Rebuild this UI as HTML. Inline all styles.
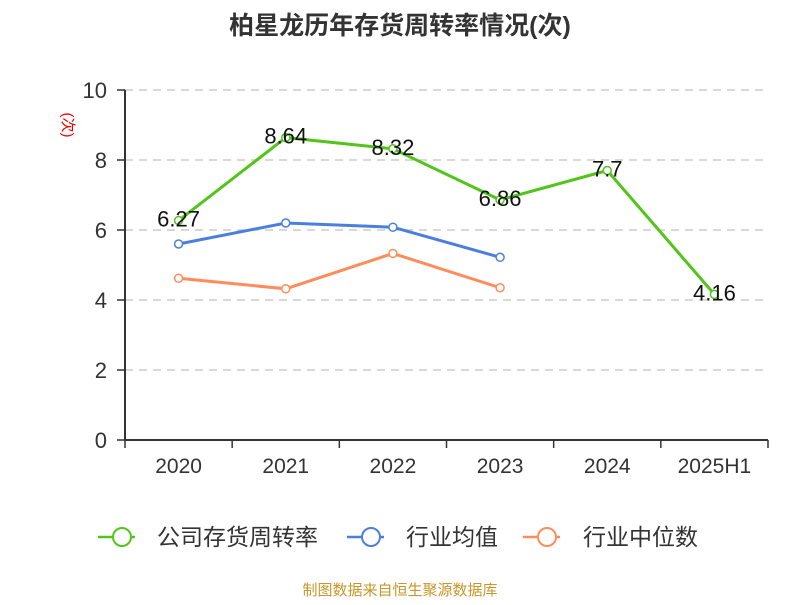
<!DOCTYPE html>
<html><head><meta charset="utf-8"><style>
body{margin:0;background:#fff;}
svg text{font-family:"Liberation Sans","Noto Sans CJK SC",sans-serif;}
</style></head><body>
<svg id="c" width="800" height="600">
<text x="400" y="34" text-anchor="middle" font-size="25" font-weight="bold" fill="#333">柏星龙历年存货周转率情况(次)</text>
<text transform="translate(63,125) rotate(90)" text-anchor="middle" font-size="15" fill="#e00">(次)</text>
<g id="grid"></g><g id="axes"></g><g id="series"></g>
<g>
<g><line x1="98" y1="537" x2="135" y2="537" stroke="#52c41a" stroke-width="2.5"/><circle cx="122" cy="537" r="9" fill="#fff" stroke="#52c41a" stroke-width="2"/><text x="157" y="545" font-size="23" fill="#333">公司存货周转率</text></g>
<g><line x1="347" y1="537" x2="384" y2="537" stroke="#4a7fe0" stroke-width="2.5"/><circle cx="371" cy="537" r="9" fill="#fff" stroke="#4a7fe0" stroke-width="2"/><text x="406" y="545" font-size="23" fill="#333">行业均值</text></g>
<g><line x1="523" y1="537" x2="560" y2="537" stroke="#ff8c5a" stroke-width="2.5"/><circle cx="547" cy="537" r="9" fill="#fff" stroke="#ff8c5a" stroke-width="2"/><text x="583" y="545" font-size="23" fill="#333">行业中位数</text></g>
</g>
<text x="400" y="595" text-anchor="middle" font-size="15" fill="#c8962a">制图数据来自恒生聚源数据库</text>
</svg>
<script>
const categories=["2020","2021","2022","2023","2024","2025H1"];
const companyValues=[6.27,8.64,8.32,6.86,7.7,4.16];
const industryAvg=[5.6,6.2,6.08,5.22,null,null];
const industryMedian=[4.62,4.32,5.33,4.35,null,null];
const yTicks=[0,2,4,6,8,10];
const NS="http://www.w3.org/2000/svg";
const L=125,R=768,T=90,B=440,yMax=10;
const bw=(R-L)/categories.length;
const xs=i=>L+bw*(i+0.5);
const ys=v=>B-(v/yMax)*(B-T);
function mk(p,tag,a){const e=document.createElementNS(NS,tag);for(const k in a)e.setAttribute(k,a[k]);p.appendChild(e);return e;}
const grid=document.getElementById('grid'),axes=document.getElementById('axes'),ser=document.getElementById('series');
yTicks.forEach(t=>{
  if(t>0){const g=mk(grid,'line',{x1:L,x2:R,y1:ys(t),y2:ys(t),stroke:'#ccc','stroke-dasharray':'8,6','stroke-width':1.5});
  
  }
  const tk=mk(axes,'line',{x1:L-8,x2:L,y1:ys(t),y2:ys(t),stroke:'#333','stroke-width':1.5});
  
  
  const tx=mk(axes,'text',{x:L-18,y:ys(t)+8,'text-anchor':'end','font-size':22,fill:'#333'});tx.textContent=t;
  
  
});
const ya=mk(axes,'line',{x1:L,x2:L,y1:T,y2:B,stroke:'#333','stroke-width':2});


const xa=mk(axes,'line',{x1:L,x2:R,y1:B,y2:B,stroke:'#333','stroke-width':2});


for(let i=0;i<=categories.length;i++){const tk=mk(axes,'line',{x1:L+bw*i,x2:L+bw*i,y1:B,y2:B+8,stroke:'#333','stroke-width':1.5});

}
categories.forEach((c,i)=>{const tx=mk(axes,'text',{x:xs(i),y:B+33,'text-anchor':'middle','font-size':21,fill:'#333'});tx.textContent=c;

});
function series(vals,color,name,labels){
  const g=mk(ser,'g',{});
  
  
  const pts=vals.map((v,i)=>v==null?null:[xs(i),ys(v)]).filter(p=>p);
  mk(g,'polyline',{points:pts.map(p=>p.join(',')).join(' '),fill:'none',stroke:color,'stroke-width':3});
  vals.forEach((v,i)=>{if(v==null)return;
    const c=mk(g,'circle',{cx:xs(i),cy:ys(v),r:4,fill:'#fff',stroke:color,'stroke-width':1.5});
    
    
    if(labels){const t=mk(g,'text',{x:xs(i),y:ys(v)+6,'text-anchor':'middle','font-size':22,fill:'#111'});t.textContent=v;
    
    }
  });
}
series(industryMedian,'#ff8c5a','industry-median-series',false);
series(industryAvg,'#4a7fe0','industry-average-series',false);
series(companyValues,'#52c41a','company-series',true);
</script>
</body></html>
